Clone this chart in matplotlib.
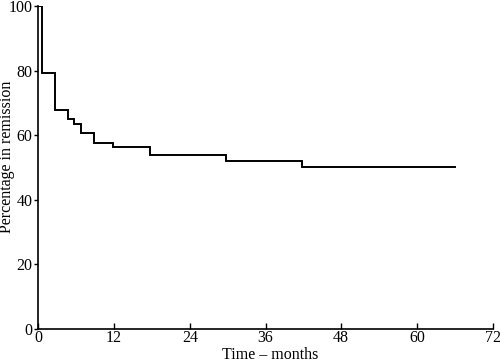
import numpy as np
import matplotlib
matplotlib.use("Agg")
import matplotlib.pyplot as plt

# step times (months) and remission level after each step
times = [0, 0.6, 2.65, 4.65, 5.65, 6.7, 8.8, 11.9, 17.75, 29.75, 41.8, 66.1]
levels = [100, 79.3, 67.8, 64.9, 63.5, 60.6, 57.7, 56.5, 53.8, 52.1, 50.3, 50.3]

xticks = [0, 12, 24, 36, 48, 60, 72]
yticks = [0, 20, 40, 60, 80, 100]

plt.rcParams['font.family'] = ['Liberation Serif', 'DejaVu Serif']

fig = plt.figure(figsize=(5, 3.62), dpi=100)
ax = fig.add_axes([0.0766, 0.0912, 0.9088, 0.8922])

# vertical drop at time zero then the steps
ax.step(times, levels, where="post", color="black", lw=1.4, solid_joinstyle="miter")

ax.set_xlim(0, 72)
ax.set_ylim(0, 100)
ax.set_xticks(xticks)
ax.set_yticks(yticks)
ax.spines["top"].set_visible(False)
ax.spines["right"].set_visible(False)
for s in ("left", "bottom"):
    ax.spines[s].set_linewidth(1.2)
ax.tick_params(axis="x", direction="in", length=4, width=1, pad=1, labelsize=11.5)
ax.tick_params(axis="y", direction="out", length=3, width=1, pad=1, labelsize=11.5)

ax.set_xlabel("Time \u2013 months", fontsize=11.5, va="center")
ax.xaxis.set_label_coords(0.51, -0.079)
ax.set_ylabel("Percentage in remission", fontsize=11.5, va="center")
ax.yaxis.set_label_coords(-0.068, 0.532)

fig.savefig("out.png", dpi=100)
